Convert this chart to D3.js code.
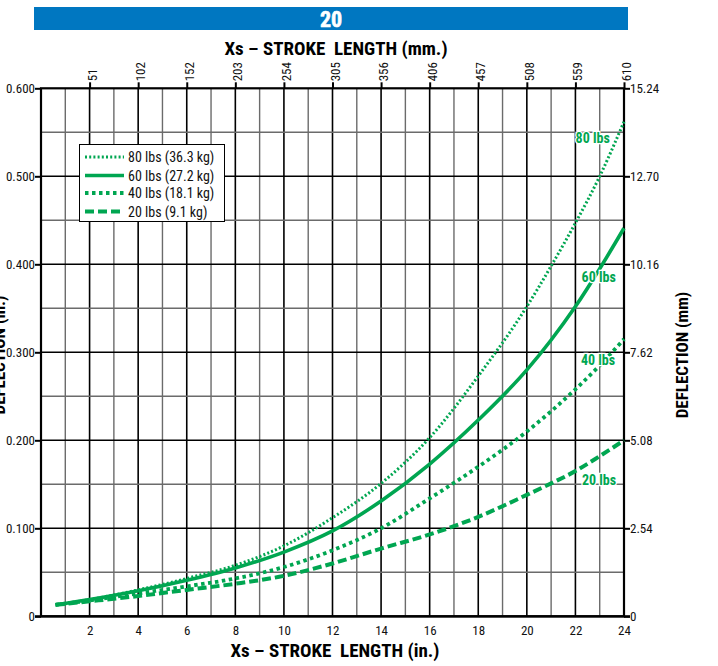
<!DOCTYPE html>
<html><head><meta charset="utf-8">
<script src="https://cdn.jsdelivr.net/npm/d3@7"></script>
<style>
body{margin:0;background:#fff;}
text{font-family:"Liberation Sans Narrow","Arial Narrow","Roboto Condensed",sans-serif;}
</style></head>
<body><svg id="c" width="718" height="666"></svg>
<script>
// ---- data ----
const strokeIn = [0.6, 2, 4, 6, 8, 10, 12, 14, 16, 18, 20, 21, 22, 23, 24];
const load80 = [0.013, 0.019, 0.030, 0.043, 0.058, 0.080, 0.112, 0.151, 0.203, 0.273, 0.352, 0.398, 0.447, 0.500, 0.562];
const load60 = [0.013, 0.019, 0.029, 0.041, 0.055, 0.073, 0.097, 0.131, 0.173, 0.223, 0.280, 0.314, 0.352, 0.395, 0.441];
const load40 = [0.013, 0.018, 0.026, 0.034, 0.043, 0.056, 0.075, 0.100, 0.134, 0.170, 0.210, 0.233, 0.258, 0.285, 0.315];
const load20 = [0.013, 0.017, 0.023, 0.030, 0.037, 0.046, 0.060, 0.077, 0.093, 0.113, 0.138, 0.151, 0.165, 0.182, 0.200];
const seriesNames = ["80 lbs (36.3 kg)", "60 lbs (27.2 kg)", "40 lbs (18.1 kg)", "20 lbs (9.1 kg)"];
const curveLabels = ["80 lbs", "60 lbs", "40 lbs", "20 lbs"];
const bottomTicks = [2,4,6,8,10,12,14,16,18,20,22,24];
const topTickLabels = ["51","102","152","203","254","305","356","406","457","508","559","610"];
const leftTicks = [0, 0.1, 0.2, 0.3, 0.4, 0.5, 0.6];
const leftTickLabels = ["0","0.100","0.200","0.300","0.400","0.500","0.600"];
const rightTickLabels = ["0","2.54","5.08","7.62","10.16","12.70","15.24"];
const labelValues = [0.543, 0.386, 0.291, 0.155]; // y-values where curve labels sit
const titleNumber = "20";

const green = "#00a651";
const svg = d3.select("#c");
const L = 41, R = 624, T = 88.3, B = 616.3;
const x = d3.scaleLinear().domain([0,24]).range([L,R]);
const y = d3.scaleLinear().domain([0,0.6]).range([B,T]);

// header bar
svg.append("rect").attr("x",34).attr("y",7).attr("width",594).attr("height",23).attr("fill","#0077c1");
svg.append("text").attr("x",331).attr("y",26.5).attr("text-anchor","middle").attr("fill","#fff")
  .attr("font-weight","bold").attr("font-size",22).attr("stroke","#fff").attr("stroke-width",0.6).text(titleNumber);

// titles
svg.append("text").attr("x",336).attr("y",55).attr("text-anchor","middle").attr("font-weight","bold")
  .attr("font-size",19).style("white-space","pre").text("Xs – STROKE  LENGTH (mm.)");
svg.append("text").attr("x",335).attr("y",657).attr("text-anchor","middle").attr("font-weight","bold")
  .attr("font-size",19).style("white-space","pre").text("Xs – STROKE  LENGTH (in.)");
svg.append("text").attr("transform","translate(5,355) rotate(-90)").attr("text-anchor","middle")
  .attr("font-weight","bold").attr("font-size",17).text("DEFLECTION (in.)");
svg.append("text").attr("transform","translate(688,355) rotate(-90)").attr("text-anchor","middle")
  .attr("font-weight","bold").attr("font-size",17).text("DEFLECTION (mm)");

// grid
const g = svg.append("g");
const vLines = d3.range(1,24);
g.selectAll(".vg").data(vLines).enter().append("line")
  .attr("x1",d=>x(d)).attr("x2",d=>x(d)).attr("y1",T).attr("y2",B)
  .attr("stroke",d=>d%2===0?"#000":"#6b6b6b").attr("stroke-width",d=>d%2===0?1.6:1.4);
const hLines = d3.range(1,12).map(i=>i*0.05);
g.selectAll(".hg").data(hLines).enter().append("line")
  .attr("x1",L).attr("x2",R).attr("y1",d=>y(d)).attr("y2",d=>y(d))
  .attr("stroke",(d,i)=>i%2===1?"#000":"#6b6b6b").attr("stroke-width",(d,i)=>i%2===1?1.6:1.4);

// axes frame
const axisLeft = d3.axisLeft(y).tickValues(leftTicks).tickSize(6).tickFormat((d,i)=>leftTickLabels[i]);
const axisRight = d3.axisRight(y).tickValues(leftTicks).tickSize(6).tickFormat((d,i)=>rightTickLabels[i]);
const axisBottom = d3.axisBottom(x).tickValues(bottomTicks).tickSize(0).tickPadding(9).tickFormat(d=>d);
const axisTop = d3.axisTop(x).tickValues(bottomTicks).tickSize(6).tickFormat((d,i)=>topTickLabels[i]);
function styleAxis(sel){
  sel.select(".domain").remove();
  sel.selectAll("line").attr("stroke","#000").attr("stroke-width",2);
  sel.selectAll("text").attr("font-size",13).attr("fill","#111");
  sel.attr("font-family",null);
}
svg.append("g").attr("transform",`translate(${L},0)`).call(axisLeft).call(styleAxis)
  .selectAll("text").attr("x",-6);
svg.append("g").attr("transform",`translate(${R},0)`).call(axisRight).call(styleAxis)
  .selectAll("text").attr("x",6);
svg.append("g").attr("transform",`translate(0,${B})`).call(axisBottom).call(styleAxis);
const topAx = svg.append("g").attr("transform",`translate(0,${T})`).call(axisTop).call(styleAxis);
topAx.selectAll(".tick text").attr("text-anchor","start")
  .attr("x",7).attr("y",0).attr("dy","0.35em").attr("transform","rotate(-90) translate(0,2)");

svg.append("rect").attr("x",L).attr("y",T).attr("width",R-L).attr("height",B-T)
  .attr("fill","none").attr("stroke","#000").attr("stroke-width",2.2);
svg.append("line").attr("x1",L-6).attr("x2",R+6).attr("y1",B).attr("y2",B).attr("stroke","#000").attr("stroke-width",2.2);

// curves
const series = [load80, load60, load40, load20];
const styles = [
  {w:3, dash:"2,2.2"},
  {w:3.6, dash:null},
  {w:3.8, dash:"3.5,3.5"},
  {w:4, dash:"9,4"}
];
const line = d3.line().x(d=>x(d[0])).y(d=>y(d[1])).curve(d3.curveMonotoneX);
series.forEach((s,i)=>{
  const pts = strokeIn.map((v,j)=>[v,s[j]]);
  svg.append("path").attr("d",line(pts)).attr("fill","none").attr("stroke",green)
    .attr("stroke-width",styles[i].w).attr("stroke-dasharray",styles[i].dash);
});

// curve labels
const labelX = [592.7, 598.7, 598, 599];
curveLabels.forEach((t,i)=>{
  svg.append("text").attr("x",labelX[i]).attr("y",y(labelValues[i])).attr("dy","0.35em")
    .attr("text-anchor","middle").attr("font-weight","bold").attr("font-size",14)
    .attr("fill",green).attr("stroke","#fff").attr("stroke-width",2.5).attr("paint-order","stroke").text(t);
});

// legend
const lg = svg.append("g");
lg.append("rect").attr("x",79.5).attr("y",144.5).attr("width",145).attr("height",77)
  .attr("fill","#fff").attr("stroke","#000").attr("stroke-width",1);
const legY = [157, 175.5, 193, 211.5];
seriesNames.forEach((n,i)=>{
  lg.append("line").attr("x1",85).attr("x2",124).attr("y1",legY[i]).attr("y2",legY[i])
    .attr("stroke",green).attr("stroke-width",styles[i].w).attr("stroke-dasharray",styles[i].dash);
  lg.append("text").attr("x",128).attr("y",legY[i]).attr("dy","0.36em").attr("font-size",14)
    .attr("fill","#111").text(n);
});
</script></body></html>
